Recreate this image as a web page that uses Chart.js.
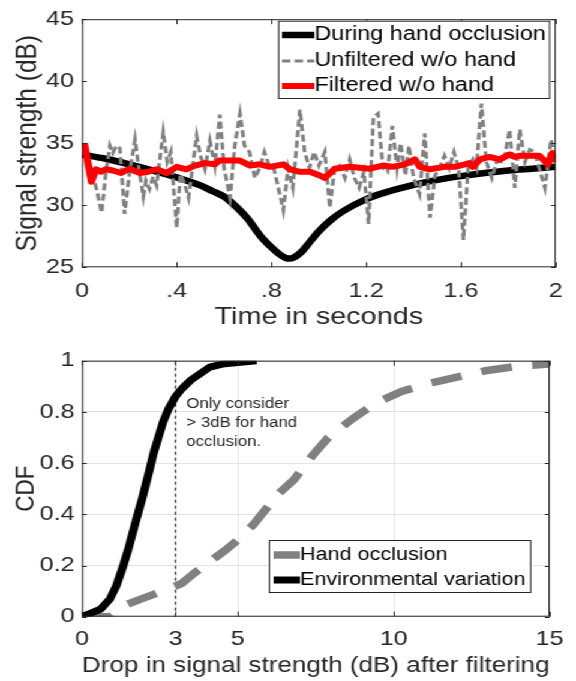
<!DOCTYPE html>
<html>
<head>
<meta charset="utf-8">
<script src="https://cdn.jsdelivr.net/npm/chart.js@4.4.0/dist/chart.umd.min.js"></script>
<style>
  html, body { margin: 0; padding: 0; background: #fff; overflow: hidden; }
  /* the figure is rendered a bit narrower and stretched sideways, like the source */
  #wrap { width: 480px; transform: scaleX(1.2); transform-origin: 0 0; }
  canvas { display: block; }
</style>
</head>
<body>
<div id="wrap">
  <canvas id="signalChart" width="480" height="340"></canvas>
  <canvas id="cdfChart" width="480" height="341"></canvas>
</div>
<script>
// ---- top panel: signal strength over time ----
const occlusionT = [0, 0.1, 0.2, 0.3, 0.4, 0.5, 0.55, 0.6, 0.65, 0.7, 0.75, 0.8, 0.83, 0.86, 0.88, 0.9, 0.93, 0.96, 1.0, 1.05, 1.1, 1.2, 1.3, 1.4, 1.5, 1.6, 1.7, 1.8, 1.9, 2.0]
const occlusionDb = [34.1, 33.75, 33.3, 32.8, 32.25, 31.6, 31.15, 30.7, 29.9, 28.9, 27.6, 26.6, 26.1, 25.75, 25.7, 25.85, 26.3, 27.0, 27.9, 28.8, 29.5, 30.5, 31.15, 31.65, 32.05, 32.35, 32.6, 32.8, 32.95, 33.1]

const unfilteredT = [0.01, 0.04, 0.065, 0.083, 0.1, 0.118, 0.13, 0.145, 0.16, 0.18, 0.2, 0.224, 0.24, 0.259, 0.27, 0.285, 0.3, 0.315, 0.343, 0.36, 0.375, 0.4, 0.415, 0.43, 0.45, 0.484, 0.5, 0.519, 0.54, 0.561, 0.582, 0.6, 0.625, 0.645, 0.667, 0.686, 0.707, 0.73, 0.75, 0.77, 0.79, 0.81, 0.85, 0.87, 0.89, 0.92, 0.94, 0.96, 0.98, 1.0, 1.025, 1.046, 1.067, 1.088, 1.11, 1.13, 1.15, 1.17, 1.19, 1.21, 1.23, 1.25, 1.27, 1.29, 1.31, 1.33, 1.345, 1.365, 1.38, 1.4, 1.425, 1.447, 1.469, 1.49, 1.51, 1.53, 1.55, 1.57, 1.59, 1.61, 1.63, 1.65, 1.665, 1.686, 1.707, 1.73, 1.75, 1.78, 1.805, 1.827, 1.848, 1.87, 1.89, 1.91, 1.93, 1.954, 1.98, 2.0]
const unfilteredDb = [34.2, 33.0, 31.0, 29.4, 32.5, 34.8, 34.2, 34.8, 34.6, 29.3, 32.5, 35.3, 33.0, 30.7, 32.0, 31.3, 32.3, 31.6, 35.9, 33.5, 34.3, 28.2, 32.5, 31.9, 30.6, 35.6, 34.0, 32.9, 35.2, 33.2, 37.3, 33.0, 30.6, 34.8, 37.4, 34.8, 34.3, 32.2, 33.0, 34.3, 33.2, 33.0, 29.6, 33.0, 31.4, 37.7, 34.3, 33.0, 34.3, 33.2, 34.3, 29.8, 33.0, 33.2, 32.2, 33.7, 32.2, 31.4, 32.7, 28.5, 37.1, 37.4, 33.0, 32.7, 36.4, 33.0, 35.0, 32.4, 34.8, 32.2, 30.9, 35.8, 29.0, 32.4, 33.0, 34.0, 33.0, 34.3, 33.0, 27.2, 33.0, 33.7, 33.0, 38.2, 33.5, 32.2, 33.5, 33.5, 36.1, 31.4, 36.1, 33.5, 34.5, 34.3, 33.0, 31.4, 35.3, 33.5]

const filteredT = [0.01, 0.04, 0.06, 0.08, 0.1, 0.13, 0.165, 0.2, 0.245, 0.28, 0.315, 0.357, 0.4, 0.44, 0.477, 0.52, 0.56, 0.58, 0.625, 0.667, 0.71, 0.751, 0.793, 0.85, 0.878, 0.92, 0.962, 1.004, 1.025, 1.067, 1.13, 1.215, 1.27, 1.31, 1.363, 1.405, 1.426, 1.468, 1.53, 1.574, 1.616, 1.635, 1.65, 1.68, 1.72, 1.764, 1.805, 1.827, 1.85, 1.89, 1.93, 1.967, 1.985, 2.0]
const filteredDb = [35.0, 31.9, 32.9, 32.7, 32.9, 32.8, 32.6, 32.95, 32.6, 32.7, 32.9, 32.6, 33.1, 32.9, 33.2, 33.4, 33.3, 33.6, 33.6, 33.6, 33.2, 33.3, 33.1, 33.3, 32.9, 32.7, 32.7, 32.4, 32.2, 32.95, 33.1, 32.95, 33.2, 33.1, 33.3, 33.7, 33.1, 32.9, 33.1, 33.1, 33.3, 33.4, 33.1, 33.7, 33.9, 33.7, 34.1, 33.9, 34.0, 34.0, 34.0, 33.3, 34.2, 33.5]

const timeTicks = [0, 0.4, 0.8, 1.2, 1.6, 2]
const timeTickLabels = ["0", ".4", ".8", "1.2", "1.6", "2"]
const dbTicks = [25, 30, 35, 40, 45]

// ---- bottom panel: CDF of the drop ----
const handDrop = [0, 0.9, 1.3, 1.8, 2.7, 3.2, 3.6, 4.1, 4.6, 5.0, 5.5, 5.9, 6.3, 6.8, 7.4, 7.9, 8.7, 9.4, 10.25, 11.1, 12.1, 13.0, 14.0, 15.0]
const handCdf = [0, 0, 0.04, 0.065, 0.105, 0.13, 0.17, 0.215, 0.26, 0.30, 0.36, 0.42, 0.48, 0.535, 0.63, 0.70, 0.775, 0.833, 0.88, 0.91, 0.938, 0.962, 0.979, 0.987]

const envDrop = [0, 0.6, 0.9, 1.1, 1.3, 1.5, 1.72, 1.95, 2.14, 2.3, 2.45, 2.6, 2.77, 3.0, 3.2, 3.5, 3.8, 4.1, 4.5, 5.0, 5.6]
const envCdf = [0, 0.03, 0.07, 0.12, 0.19, 0.27, 0.37, 0.47, 0.56, 0.64, 0.70, 0.76, 0.81, 0.86, 0.89, 0.925, 0.95, 0.975, 0.987, 0.993, 1.0]

const thresholdDb = 3
const dropTicks = [0, 3, 5, 10, 15]
const cdfTicks = [0, 0.2, 0.4, 0.6, 0.8, 1]
const cdfTickLabels = ["0", "0.2", "0.4", "0.6", "0.8", "1"]
const noteLines = ["Only consider", "> 3dB for hand", "occlusion."]

const FONT = "'Liberation Sans', Arial, Helvetica, sans-serif"
Chart.defaults.font.family = FONT
Chart.defaults.color = "#262626"

const toPoints = (xs, ys) => xs.map((x, i) => ({ x: x, y: ys[i] }))

// box around the plot with small inward ticks (matlab look)
const boxPlugin = {
  id: "box",
  afterDatasetsDraw(chart) {
    const { ctx, chartArea: a, scales } = chart
    ctx.save()
    ctx.strokeStyle = "#262626"
    ctx.lineWidth = 1
    ctx.strokeRect(a.left + 0.5, a.top + 0.5, a.right - a.left - 1, a.bottom - a.top - 1)
    ctx.beginPath()
    scales.x.ticks.forEach((t) => {
      const px = Math.round(scales.x.getPixelForValue(t.value)) + 0.5
      ctx.moveTo(px, a.bottom); ctx.lineTo(px, a.bottom - 5)
      ctx.moveTo(px, a.top); ctx.lineTo(px, a.top + 5)
    })
    scales.y.ticks.forEach((t) => {
      const py = Math.round(scales.y.getPixelForValue(t.value)) + 0.5
      ctx.moveTo(a.left, py); ctx.lineTo(a.left + 4, py)
      ctx.moveTo(a.right, py); ctx.lineTo(a.right - 4, py)
    })
    ctx.stroke()
    ctx.restore()
  },
}

// legend drawn as a framed box inside the plot
const boxLegend = {
  id: "boxLegend",
  afterDraw(chart, args, o) {
    if (!o.items) return
    const ctx = chart.ctx
    ctx.save()
    ctx.fillStyle = "#fff"
    ctx.fillRect(o.left, o.top, o.right - o.left, o.bottom - o.top)
    ctx.strokeStyle = "#262626"
    ctx.lineWidth = 1
    ctx.strokeRect(o.left + 0.5, o.top + 0.5, o.right - o.left, o.bottom - o.top)
    o.items.forEach((idx, k) => {
      const ds = chart.data.datasets[idx]
      const y = o.rows[k]
      ctx.beginPath()
      ctx.setLineDash(ds.borderDash || [])
      ctx.strokeStyle = ds.borderColor
      ctx.lineWidth = ds.borderWidth
      ctx.moveTo(o.lineStart, y)
      ctx.lineTo(o.lineEnd, y)
      ctx.stroke()
      ctx.setLineDash([])
      ctx.fillStyle = "#000"
      ctx.font = o.font
      ctx.textBaseline = "middle"
      ctx.fillText(ds.label, o.textX, y)
    })
    ctx.restore()
  },
}

// text note next to the threshold line
const notePlugin = {
  id: "note",
  afterDatasetsDraw(chart, args, o) {
    if (!o.lines) return
    const { ctx, scales } = chart
    ctx.save()
    ctx.fillStyle = "#262626"
    ctx.font = o.font
    ctx.textBaseline = "middle"
    const x = scales.x.getPixelForValue(o.x)
    o.lines.forEach((line, i) => {
      ctx.fillText(line, x, scales.y.getPixelForValue(o.y[i]))
    })
    ctx.restore()
  },
}

const setTicks = (values) => (scale) => {
  scale.ticks = values.map((v) => ({ value: v }))
}

const createSignalChart = (canvas) => {
  return new Chart(canvas.getContext("2d"), {
    type: "scatter",
    data: {
      datasets: [
        {
          label: "During hand occlusion",
          data: toPoints(occlusionT, occlusionDb),
          showLine: true,
          borderColor: "#000000",
          borderWidth: 6.5,
          cubicInterpolationMode: "monotone",
          pointRadius: 0,
          order: 3,
        },
        {
          label: "Unfiltered w/o hand",
          data: toPoints(unfilteredT, unfilteredDb),
          showLine: true,
          borderColor: "#808080",
          borderWidth: 3,
          borderDash: [7, 3.5],
          pointRadius: 0,
          order: 2,
        },
        {
          label: "Filtered w/o hand",
          data: toPoints(filteredT, filteredDb),
          showLine: true,
          borderColor: "#ff0000",
          borderWidth: 6,
          borderJoinStyle: "round",
          pointRadius: 0,
          order: 1,
        },
      ],
    },
    options: {
      responsive: false,
      animation: false,
      events: [],
      devicePixelRatio: 1,
      layout: { padding: { top: 12.7, right: 16.7, left: 0, bottom: 0 } },
      scales: {
        x: {
          type: "linear",
          min: 0,
          max: 2,
          afterBuildTicks: setTicks(timeTicks),
          afterFit: (scale) => { scale.height = 72.7 },
          grid: { display: false, drawTicks: false },
          border: { display: false },
          ticks: {
            padding: 11,
            font: { size: 21 },
            maxRotation: 0,
            callback: (v, i) => timeTickLabels[i],
          },
          title: {
            display: true,
            text: "Time in seconds",
            font: { size: 24 },
            padding: { top: 0, bottom: 8 },
          },
        },
        y: {
          min: 25,
          max: 45,
          afterBuildTicks: setTicks(dbTicks),
          afterFit: (scale) => { scale.width = 68.3 },
          grid: { display: false, drawTicks: false },
          border: { display: false },
          ticks: { padding: 6.6, font: { size: 21 } },
          title: {
            display: true,
            text: "Signal strength (dB)",
            font: { size: 24.5 },
            padding: { top: 9, bottom: 0 },
          },
        },
      },
      plugins: {
        legend: { display: false },
        tooltip: { enabled: false },
        boxLegend: {
          left: 231.7, right: 457.5, top: 20.7, bottom: 98,
          rows: [35, 61, 86],
          items: [0, 1, 2],
          lineStart: 235, lineEnd: 262, textX: 262,
          font: "19.5px " + FONT,
        },
      },
    },
    plugins: [boxPlugin, boxLegend],
  })
}

const createCdfChart = (canvas) => {
  return new Chart(canvas.getContext("2d"), {
    type: "scatter",
    data: {
      datasets: [
        {
          label: "Hand occlusion",
          data: toPoints(handDrop, handCdf),
          showLine: true,
          borderColor: "#808080",
          borderWidth: 7.5,
          borderDash: [26, 17],
          pointRadius: 0,
          order: 2,
        },
        {
          label: "Environmental variation",
          data: toPoints(envDrop, envCdf),
          showLine: true,
          borderColor: "#000000",
          borderWidth: 7,
          borderJoinStyle: "round",
          pointRadius: 0,
          order: 1,
        },
        {
          label: "threshold",
          data: [{ x: thresholdDb, y: 0 }, { x: thresholdDb, y: 1 }],
          showLine: true,
          borderColor: "#000000",
          borderWidth: 1,
          borderDash: [3, 3],
          pointRadius: 0,
          order: 3,
        },
      ],
    },
    options: {
      responsive: false,
      animation: false,
      events: [],
      devicePixelRatio: 1,
      layout: { padding: { top: 20.7, right: 16.7, left: 0, bottom: 0 } },
      scales: {
        x: {
          type: "linear",
          min: 0,
          max: 15,
          afterBuildTicks: setTicks(dropTicks),
          afterFit: (scale) => { scale.height = 64.3 },
          grid: { color: "#e3e3e3", drawTicks: false },
          border: { display: false },
          ticks: { padding: 10.3, font: { size: 21 }, maxRotation: 0 },
          title: {
            display: true,
            text: "Drop in signal strength (dB) after filtering",
            font: { size: 21.9 },
            padding: { top: 0, bottom: 2 },
          },
        },
        y: {
          min: 0,
          max: 1,
          afterBuildTicks: setTicks(cdfTicks),
          afterFit: (scale) => { scale.width = 68.3 },
          grid: { color: "#e3e3e3", drawTicks: false },
          border: { display: false },
          ticks: { padding: 6, font: { size: 21 }, callback: (v, i) => cdfTickLabels[i] },
          title: {
            display: true,
            text: "CDF",
            font: { size: 22.5 },
            padding: { top: 8, bottom: 0 },
          },
        },
      },
      plugins: {
        legend: { display: false },
        tooltip: { enabled: false },
        boxLegend: {
          left: 224, right: 441.7, top: 200, bottom: 252,
          rows: [215, 240],
          items: [0, 1],
          lineStart: 228, lineEnd: 250, textX: 250,
          font: "18px " + FONT,
        },
        note: {
          lines: noteLines,
          x: 3.35,
          y: [0.83, 0.755, 0.68],
          font: "14px " + FONT,
        },
      },
    },
    plugins: [boxPlugin, notePlugin, boxLegend],
  })
}

createSignalChart(document.getElementById("signalChart"))
createCdfChart(document.getElementById("cdfChart"))
</script>
</body>
</html>
